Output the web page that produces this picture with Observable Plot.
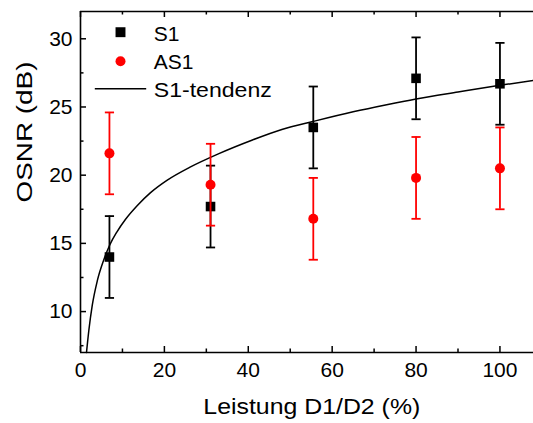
<!DOCTYPE html>
<html><head><meta charset="utf-8">
<script src="https://cdn.jsdelivr.net/npm/d3@7"></script>
<script src="https://cdn.jsdelivr.net/npm/@observablehq/plot@0.6"></script>
<style>body{margin:0;background:#fff}</style>
</head><body><div id="chart"></div>
<script>
// Data
const leistung = [6.9, 31, 55.5, 80, 100];
const s1 = [14.0, 17.7, 23.5, 27.1, 26.7];
const s1Err = [3.0, 3.0, 3.0, 3.0, 3.0];
const as1 = [21.6, 19.3, 16.8, 19.8, 20.5];
const as1Err = [3.0, 3.0, 3.0, 3.0, 3.0];
// S1 trend curve
const trendX = [1.43, 2.0, 2.8, 4.0, 5.5, 7.0, 8.7, 10.7, 13.5, 16.7, 20.6, 26, 33, 41, 48, 55.6, 65, 73, 80, 90, 100, 108];
const trendY = [7.0, 8.65, 10.45, 12.25, 13.75, 14.9, 15.85, 16.75, 17.76, 18.72, 19.62, 20.57, 21.58, 22.58, 23.35, 23.95, 24.65, 25.17, 25.59, 26.1, 26.59, 26.94];
const xMajor = [0, 20, 40, 60, 80, 100];
const xMinor = [10, 30, 50, 70, 90];
const yMajor = [10, 15, 20, 25, 30];
const yMinor = [7.5, 12.5, 17.5, 22.5, 27.5];
const legendLabels = ["S1", "AS1", "S1-tendenz"];
const xLabel = "Leistung D1/D2 (%)";
const yLabel = "OSNR (dB)";

const W = 533, H = 423, mL = 80, mT = 11, mB = 71, mR = 0;
const innerW = W - mL - mR, innerH = H - mT - mB;
const FONT = "'Liberation Sans', Arial, sans-serif";

const s1Rows = leistung.map((x, i) => ({x, y: s1[i], lo: s1[i] - s1Err[i], hi: s1[i] + s1Err[i]}));
const as1Rows = leistung.map((x, i) => ({x, y: as1[i], lo: as1[i] - as1Err[i], hi: as1[i] + as1Err[i]}));
const trend = trendX.map((x, i) => ({x, y: trendY[i]}));

const capSym = {draw(ctx) { ctx.moveTo(-4.6, 0); ctx.lineTo(4.6, 0); }};
const lineSym = {draw(ctx) { ctx.moveTo(-25.7, 0); ctx.lineTo(25.7, 0); }};

function errMarks(rows, color) {
  return [
    Plot.ruleX(rows, {x: "x", y1: "lo", y2: "hi", stroke: color, strokeWidth: 1.8}),
    Plot.dot(rows, {x: "x", y: "hi", symbol: capSym, stroke: color, fill: "none", strokeWidth: 1.8}),
    Plot.dot(rows, {x: "x", y: "lo", symbol: capSym, stroke: color, fill: "none", strokeWidth: 1.8})
  ];
}

const legendDy = [29, 57.3, 85.7];

const svg = Plot.plot({
  width: W, height: H,
  marginLeft: mL, marginTop: mT, marginBottom: mB, marginRight: mR,
  style: {fontFamily: FONT, background: "#fff", color: "#000"},
  x: {domain: [0, 108], axis: null},
  y: {domain: [7, 32], axis: null},
  marks: [
    // tick labels
    Plot.axisX({ticks: xMajor, tickSize: 0, tickPadding: 9.5, fontSize: 21, label: null, anchor: "bottom"}),
    Plot.axisY({ticks: yMajor, tickSize: 0, tickPadding: 8, fontSize: 21, label: null, anchor: "left"}),
    // inward ticks
    Plot.tickX(xMajor, {x: d => d, insetTop: innerH - 6, stroke: "#000", strokeWidth: 1.5}),
    Plot.tickX(xMinor, {x: d => d, insetTop: innerH - 3.5, stroke: "#000", strokeWidth: 1.5}),
    Plot.tickX(xMajor, {x: d => d, insetBottom: innerH - 6, stroke: "#000", strokeWidth: 1.5}),
    Plot.tickX(xMinor, {x: d => d, insetBottom: innerH - 3.5, stroke: "#000", strokeWidth: 1.5}),
    Plot.tickY(yMajor, {y: d => d, insetRight: innerW - 6, stroke: "#000", strokeWidth: 1.5}),
    Plot.tickY(yMinor, {y: d => d, insetRight: innerW - 3.5, stroke: "#000", strokeWidth: 1.5}),
    // frame lines
    Plot.ruleX([0], {stroke: "#000", strokeWidth: 1.6}),
    Plot.ruleY([7], {stroke: "#000", strokeWidth: 1.6}),
    Plot.ruleY([32], {stroke: "#000", strokeWidth: 1.6}),
    // axis titles
    Plot.text([xLabel], {frameAnchor: "bottom", lineAnchor: "bottom", dy: 61.5, dx: 4.8, fontSize: 21.5, fill: "#000"}),
    Plot.text([yLabel], {frameAnchor: "left", rotate: -90, dx: -55.5, dy: 20.5, fontSize: 22.5, fill: "#000"}),
    // S1
    ...errMarks(s1Rows, "#000"),
    Plot.dot(s1Rows, {x: "x", y: "y", symbol: "square", r: 5.4, fill: "#000"}),
    // trend
    Plot.line(trend, {x: "x", y: "y", stroke: "#000", strokeWidth: 1.5, curve: "monotone-x"}),
    // AS1
    ...errMarks(as1Rows, "#ff0000"),
    Plot.dot(as1Rows, {x: "x", y: "y", r: 5, fill: "#ff0000"}),
    // legend
    Plot.dot([legendLabels[0]], {frameAnchor: "top-left", dx: 40, dy: 20.7, symbol: "square", r: 5.6, fill: "#000"}),
    Plot.dot([legendLabels[1]], {frameAnchor: "top-left", dx: 40, dy: 49.7, r: 5, fill: "#ff0000"}),
    Plot.dot([legendLabels[2]], {frameAnchor: "top-left", dx: 40, dy: 77.3, symbol: lineSym, stroke: "#000", fill: "none", strokeWidth: 1.5}),
    ...legendLabels.map((t, i) => Plot.text([t], {frameAnchor: "top-left", textAnchor: "start", lineAnchor: "bottom", dx: 73.3, dy: legendDy[i], fontSize: 21, fill: "#000"}))
  ]
});

const lengths = {[xLabel]: 217, [yLabel]: 141, "S1-tendenz": 118};
d3.select(svg).selectAll("text").each(function() {
  const t = this.textContent;
  if (lengths[t]) d3.select(this).attr("textLength", lengths[t]).attr("lengthAdjust", "spacingAndGlyphs");
});

document.getElementById("chart").appendChild(svg);
</script>
</body></html>
